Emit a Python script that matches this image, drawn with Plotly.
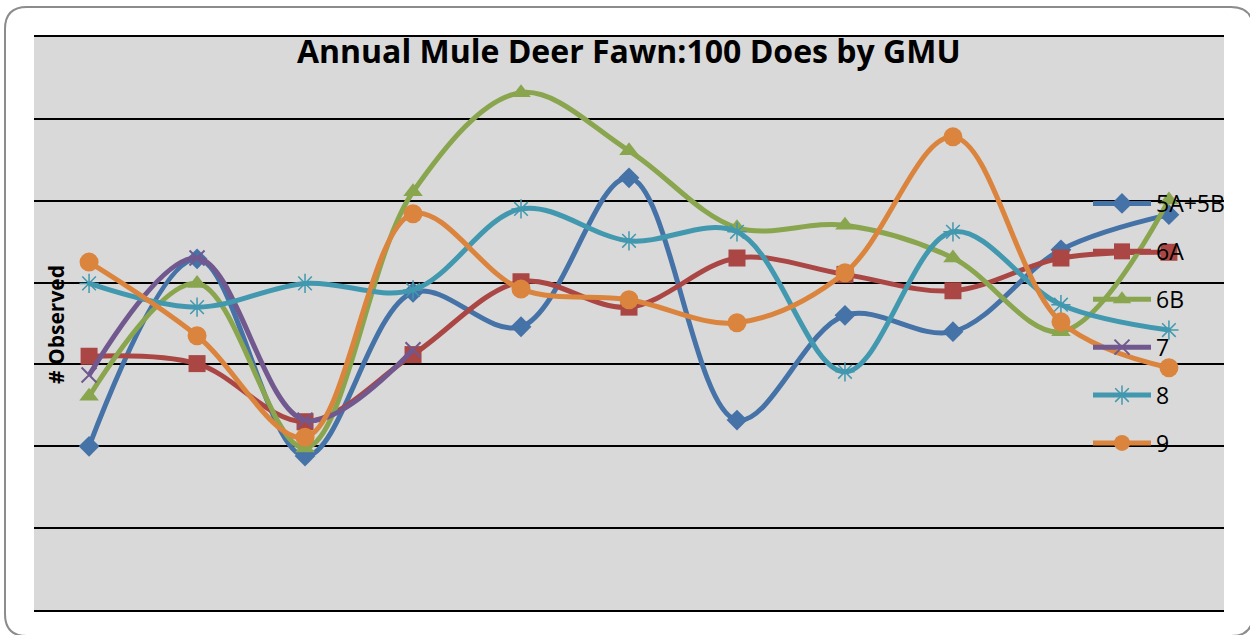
import plotly.graph_objects as go

# values (no y tick labels shown; 10 units per gridline)
points = list(range(11))
gmu_5a5b = [20.0, 42.9, 18.8, 38.8, 34.6, 52.8, 23.2, 36.0, 34.0, 44.0, 48.3]
gmu_6a = [31.0, 30.1, 23.0, 31.2, 40.1, 37.0, 43.0, 41.0, 39.0, 43.0, 43.7]
gmu_6b = [26.1, 39.9, 19.8, 51.1, 63.2, 56.1, 46.7, 47.0, 43.0, 34.0, 50.1]
gmu_7 = [28.7, 43.0, 23.2, 31.8]
gmu_8 = [39.9, 37.0, 39.9, 39.1, 49.0, 45.1, 46.2, 29.1, 46.2, 37.3, 34.2]
gmu_9 = [42.5, 33.5, 21.1, 48.4, 39.2, 37.9, 35.1, 41.2, 57.8, 35.2, 29.6]

series = [
    ("5A+5B", gmu_5a5b, "#4572A7", dict(symbol="diamond", size=16)),
    ("6A", gmu_6a, "#AA4643", dict(symbol="square", size=17)),
    ("6B", gmu_6b, "#89A54E", dict(symbol="triangle-up", size=17)),
    ("7", gmu_7, "#71588F", dict(symbol="x-thin-open", size=15, line=dict(width=2, color="#71588F"))),
    ("8", gmu_8, "#4198AF", dict(symbol="asterisk-open", size=16, line=dict(width=1.5, color="#4198AF"))),
    ("9", gmu_9, "#DB843D", dict(symbol="circle", size=19)),
]

W, H = 1250, 635
L, R, T, B = 34, 26, 37, 25
pw, ph = W - L - R, H - T - B


def px(x):
    return (x - L) / pw


def py(y):
    return (H - B - y) / ph


fig = go.Figure()
for name, vals, col, mk in series:
    fig.add_trace(go.Scatter(
        x=points[:len(vals)], y=vals, name=name, mode="lines+markers",
        line=dict(color=col, width=5, shape="spline", smoothing=1.0),
        marker=dict(color=col, **mk), legendgroup=name,
    ))

# outer rounded frame
x0, x1, y0, y1, r = 5, 1253, 7, 636, 22
path = (f"M {px(x0 + r)},{py(y0)} L {px(x1 - r)},{py(y0)} Q {px(x1)},{py(y0)} {px(x1)},{py(y0 + r)} "
        f"L {px(x1)},{py(y1 - r)} Q {px(x1)},{py(y1)} {px(x1 - r)},{py(y1)} "
        f"L {px(x0 + r)},{py(y1)} Q {px(x0)},{py(y1)} {px(x0)},{py(y1 - r)} "
        f"L {px(x0)},{py(y0 + r)} Q {px(x0)},{py(y0)} {px(x0 + r)},{py(y0)} Z")

fig.update_layout(
    width=W, height=H,
    margin=dict(l=L, r=R, t=T, b=B),
    paper_bgcolor="white", plot_bgcolor="#d9d9d9",
    font=dict(family="Open Sans", color="black"),
    title=dict(text="<b>Annual Mule Deer Fawn:100 Does by GMU</b>", x=0.503, xanchor="center",
               y=1 - 52 / H, yanchor="middle", yref="container", font=dict(size=32)),
    xaxis=dict(range=[-0.51, 10.51], showticklabels=False, showgrid=False, zeroline=False,
               ticks="", showline=True, mirror=True, linecolor="black", linewidth=2),
    yaxis=dict(range=[0, 70], dtick=10, showticklabels=False, gridcolor="black", gridwidth=2,
               zeroline=False, ticks=""),
    legend=dict(x=px(1088), y=py(182), xanchor="left", yanchor="top", bgcolor="rgba(0,0,0,0)",
                font=dict(size=23), traceorder="grouped", tracegroupgap=15, itemwidth=58),
    shapes=[dict(type="path", xref="paper", yref="paper", path=path,
                 line=dict(color="#8c8c8c", width=2), fillcolor="rgba(0,0,0,0)")],
    annotations=[dict(text="<b># Observed</b>", textangle=-90, xref="paper", yref="paper",
                      x=px(56), y=py(325), xanchor="center", yanchor="middle",
                      showarrow=False, font=dict(size=21))],
)

fig.write_html("out.html", config={"displayModeBar": False},
               post_script="document.body.style.margin='0';")
